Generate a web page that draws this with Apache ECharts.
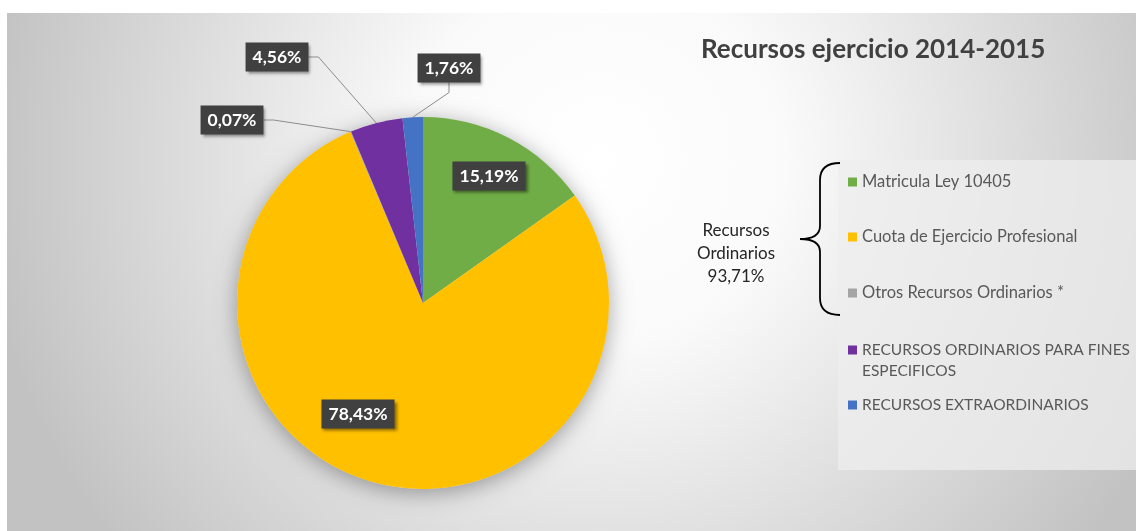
<!DOCTYPE html>
<html>
<head>
<meta charset="utf-8">
<script src="https://cdn.jsdelivr.net/npm/echarts@6/dist/echarts.min.js"></script>
<style>
  html, body { margin: 0; padding: 0; background: #fff; }
  #chart { width: 1136px; height: 531px; }
</style>
</head>
<body>
<div id="chart"></div>
<script>
const categories = [
  'Matricula Ley 10405',
  'Cuota de Ejercicio Profesional',
  'Otros Recursos Ordinarios *',
  'RECURSOS ORDINARIOS PARA FINES ESPECIFICOS',
  'RECURSOS EXTRAORDINARIOS'
]
const shares = [15.19, 78.43, 0.07, 4.56, 1.76]
const ordinaryTotal = '93,71%'
const titleText = 'Recursos ejercicio 2014-2015'

const sliceColors = ['#70AD47', '#FFC000', '#A5A5A5', '#7030A0', '#4472C4']
const insideLabel = [true, true, false, false, false]
const labelPos = [[489, 176], [358, 414], [232, 120], [277, 57], [449, 68]]
const legendCenters = [182, 237, 293, 350, 405]
const legendFontSize = [16.5, 16.5, 16.5, 15.5, 15.5]
const pieCenter = [423, 303]
const pieRadius = 186
const font = 'Lato, "Open Sans", sans-serif'

const fmtPct = v => v.toFixed(2).replace('.', ',') + '%'

const chart = echarts.init(document.getElementById('chart'))

const pieData = categories.map((name, i) => ({
  name: name,
  value: shares[i],
  itemStyle: { color: sliceColors[i] },
  label: { position: insideLabel[i] ? 'inside' : 'outside' },
  labelLine: { show: !insideLabel[i] }
}))

const legends = categories.map((name, i) => {
  const twoLine = i === 3
  return {
    orient: 'vertical',
    left: 848,
    top: legendCenters[i] - (twoLine ? 31.5 : 10.5),
    padding: 0,
    itemWidth: 9,
    itemHeight: 9,
    icon: 'rect',
    selectedMode: false,
    data: [name],
    // blank first line keeps the marker level with the first text line
    formatter: n => twoLine ? ' \nRECURSOS ORDINARIOS PARA FINES\nESPECIFICOS' : n,
    textStyle: {
      fontFamily: font,
      fontSize: legendFontSize[i],
      color: '#595959',
      lineHeight: 21
    }
  }
})

const braceStyle = { fill: null, stroke: '#000', lineWidth: 1.8 }
const brace = [
  { type: 'bezierCurve', shape: { x1: 840, y1: 163, cpx1: 820, cpy1: 163, x2: 820, y2: 180 } },
  { type: 'line', shape: { x1: 820, y1: 180, x2: 820, y2: 226 } },
  { type: 'bezierCurve', shape: { x1: 820, y1: 226, cpx1: 820, cpy1: 239, x2: 800, y2: 239 } },
  { type: 'bezierCurve', shape: { x1: 800, y1: 239, cpx1: 820, cpy1: 239, x2: 820, y2: 252 } },
  { type: 'line', shape: { x1: 820, y1: 252, x2: 820, y2: 298 } },
  { type: 'bezierCurve', shape: { x1: 820, y1: 298, cpx1: 820, cpy1: 315, x2: 840, y2: 315 } }
].map(el => Object.assign(el, { silent: true, style: braceStyle }))

const option = {
  animation: false,
  title: {
    text: titleText,
    left: 696,
    top: 32,
    textStyle: { fontFamily: font, fontSize: 26, fontWeight: 'bold', color: '#404040' }
  },
  legend: legends,
  graphic: [
    {
      type: 'rect', z: -10, silent: true,
      shape: { x: 7, y: 13, width: 1129, height: 518 },
      style: {
        fill: {
          type: 'radial', x: 600, y: 160, r: 620, global: true,
          colorStops: [
            { offset: 0, color: '#ffffff' },
            { offset: 0.3, color: '#fafafa' },
            { offset: 1, color: '#c2c2c2' }
          ]
        }
      }
    },
    {
      type: 'rect', z: -5, silent: true,
      shape: { x: 838, y: 160, width: 298, height: 310 },
      style: { fill: 'rgba(238,238,238,0.75)' }
    },
    ...brace,
    {
      type: 'text', silent: true,
      style: {
        x: 736, y: 254,
        text: 'Recursos\nOrdinarios\n' + ordinaryTotal,
        align: 'center', verticalAlign: 'middle',
        font: '17px ' + font, lineHeight: 23, fill: '#262626'
      }
    }
  ],
  series: [
    {
      // soft shadow underneath the pie
      type: 'pie', silent: true, z: 1,
      center: pieCenter, radius: pieRadius,
      label: { show: false }, labelLine: { show: false },
      itemStyle: {
        color: '#e0e0e0',
        shadowBlur: 22, shadowColor: 'rgba(0,0,0,0.35)', shadowOffsetY: 4
      },
      data: [{ name: 'shadow', value: 1 }]
    },
    {
      type: 'pie', z: 2,
      center: pieCenter, radius: pieRadius,
      startAngle: 90, clockwise: true,
      avoidLabelOverlap: false,
      data: pieData,
      label: {
        show: true,
        formatter: p => fmtPct(p.value),
        fontFamily: font, fontSize: 17.5, fontWeight: 'bold',
        color: '#fff', backgroundColor: '#404040',
        padding: [6, 7, 5, 7],
        shadowBlur: 3, shadowColor: 'rgba(0,0,0,0.45)',
        shadowOffsetX: 2, shadowOffsetY: 2
      },
      labelLine: {
        length: 10, length2: 10,
        lineStyle: { color: '#8c8c8c', width: 1 }
      },
      labelLayout: p => ({
        x: labelPos[p.dataIndex][0],
        y: labelPos[p.dataIndex][1],
        align: 'center',
        verticalAlign: 'middle'
      })
    }
  ]
}

chart.setOption(option)
</script>
</body>
</html>
